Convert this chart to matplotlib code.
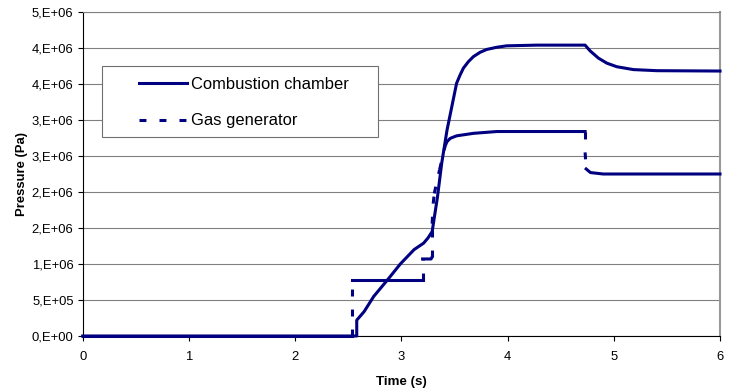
import numpy as np
import matplotlib
matplotlib.use("Agg")
import matplotlib.pyplot as plt
from matplotlib.patches import Rectangle
from matplotlib.lines import Line2D

# Values (time in s, pressure in Pa)
t_chamber = [0.0, 2.58, 2.58, 2.65, 2.74, 2.87, 2.99, 3.12, 3.21, 3.25, 3.29,
             3.34, 3.38, 3.43, 3.475, 3.52, 3.553, 3.584, 3.631, 3.678, 3.741,
             3.804, 3.898, 3.99, 4.28, 4.73, 4.777, 4.855, 4.934, 5.028, 5.185,
             5.405, 6.0]
p_chamber = [0.0, 0.0, 0.22e6, 0.34e6, 0.55e6, 0.78e6, 1.0e6, 1.2e6, 1.29e6,
             1.36e6, 1.45e6, 1.93e6, 2.40e6, 2.86e6, 3.185e6, 3.51e6, 3.625e6,
             3.72e6, 3.81e6, 3.88e6, 3.94e6, 3.98e6, 4.01e6, 4.03e6, 4.04e6,
             4.04e6, 3.96e6, 3.86e6, 3.79e6, 3.74e6, 3.70e6, 3.685e6, 3.68e6]

t_gas = [0.0, 2.54, 2.54, 3.20, 3.20, 3.28, 3.29, 3.29, 3.30, 3.31, 3.36,
         3.41, 3.43, 3.46, 3.52, 3.68, 3.90, 4.73, 4.73, 4.74, 4.78, 4.9, 6.0]
p_gas = [0.0, 0.0, 0.78e6, 0.78e6, 1.07e6, 1.07e6, 1.10e6, 1.56e6, 1.84e6,
         1.98e6, 2.31e6, 2.63e6, 2.70e6, 2.745e6, 2.78e6, 2.815e6, 2.84e6,
         2.84e6, 2.55e6, 2.32e6, 2.27e6, 2.25e6, 2.25e6]

y_ticks = np.arange(0, 4.5e6 + 1, 5e5)
y_labels = ["0,E+00", "5,E+05", "1,E+06", "2,E+06", "2,E+06", "3,E+06",
            "3,E+06", "4,E+06", "4,E+06", "5,E+06"]
x_ticks = [0, 1, 2, 3, 4, 5, 6]

navy = "#000080"
plt.rcParams["font.family"] = ["Liberation Sans", "DejaVu Sans"]
plt.rcParams["lines.scale_dashes"] = False

fig = plt.figure(figsize=(7.36, 3.92), dpi=100)
ax = fig.add_axes([82.7 / 736, 1 - 336 / 392, (720 - 82.7) / 736, 324 / 392])

ax.set_xlim(0, 6)
ax.set_ylim(0, 4.5e6)
ax.set_xticks(x_ticks)
ax.set_xticklabels([str(x) for x in x_ticks])
ax.set_yticks(y_ticks)
ax.set_yticklabels(y_labels)
ax.tick_params(axis="both", direction="out", length=3.6, width=0.8,
               labelsize=9.4, colors="black")
ax.tick_params(axis="x", pad=7)
ax.tick_params(axis="y", pad=3)
ax.set_axisbelow(True)
ax.grid(axis="y", color="#808080", linewidth=0.8)
ax.grid(axis="x", visible=False)

for side in ["left", "bottom"]:
    ax.spines[side].set_color("black")
    ax.spines[side].set_linewidth(0.8)
ax.spines["top"].set_color("#808080")
ax.spines["top"].set_linewidth(0.8)
ax.spines["right"].set_color("#999999")
ax.spines["right"].set_linewidth(1.5)

ax.set_xlabel("Time (s)", fontsize=9.6, fontweight="bold", labelpad=9.8)
ax.set_ylabel("Pressure (Pa)", fontsize=9.4, fontweight="bold", labelpad=3)

lw = 2.2
ax.plot(t_chamber, p_chamber, color=navy, linewidth=lw, solid_joinstyle="round",
        clip_on=False, zorder=3)

# Gas generator: dash pattern restarts at every point, so dense parts look
# solid and the steep jumps show the dashes
pts = ax.transData.transform(np.column_stack([t_gas, p_gas]))
d = np.diff(pts, axis=0)
steep = np.abs(d[:, 1]) > 3 * np.abs(d[:, 0])
run = [0]
for i in range(len(steep)):
    if steep[i]:
        if len(run) > 1:
            ax.plot([t_gas[k] for k in run], [p_gas[k] for k in run],
                    color=navy, linewidth=lw, solid_joinstyle="round",
                    zorder=3, clip_on=False)
        ax.plot(t_gas[i:i + 2], p_gas[i:i + 2], color=navy, linewidth=lw,
                linestyle=(0, (5, 9.4)), dash_capstyle="butt", zorder=3)
        run = [i + 1]
    else:
        run.append(i + 1)
if len(run) > 1:
    ax.plot([t_gas[k] for k in run], [p_gas[k] for k in run],
            color=navy, linewidth=lw, solid_joinstyle="round",
            zorder=3, clip_on=False)

# Legend box
ax.add_patch(Rectangle((0.0303, 0.6142), 0.4331, 0.2191, transform=ax.transAxes,
                       facecolor="white", edgecolor="#707070", linewidth=0.8,
                       zorder=4))
handles = [Line2D([], [], color=navy, linewidth=lw),
           Line2D([], [], color=navy, linewidth=lw, linestyle=(0, (5, 9.4)))]
ax.legend(handles, ["Combustion chamber", "Gas generator"], loc="upper left",
          bbox_to_anchor=(0.0883, 0.80), frameon=False, fontsize=11.9,
          handlelength=2.9, handletextpad=0.25, labelspacing=1.31,
          borderpad=0, borderaxespad=0).set_zorder(5)

fig.savefig("out.png", dpi=100)
